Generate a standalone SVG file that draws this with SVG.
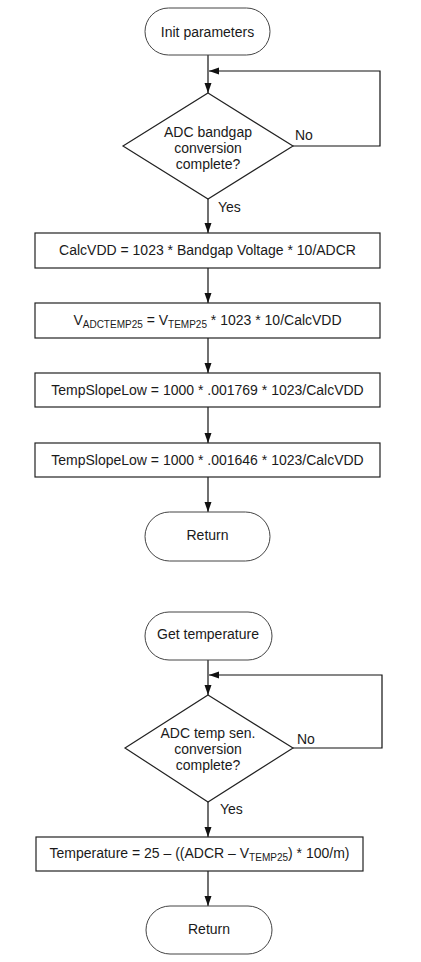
<svg xmlns="http://www.w3.org/2000/svg" width="421" height="962" viewBox="0 0 421 962">
<defs>
<marker id="arr" markerUnits="userSpaceOnUse" markerWidth="11" markerHeight="8" refX="10" refY="3.5" orient="auto">
<path d="M0,0 L10,3.5 L0,7 z" fill="#111"/>
</marker>
<style>
.shape{fill:#fff;stroke:#222;stroke-width:1.2}
.term{fill:#fff;stroke:#444;stroke-width:1}
.t{font-family:"Liberation Sans",Arial,sans-serif;font-size:14px;fill:#1a1a1a;text-anchor:middle}
.l{font-family:"Liberation Sans",Arial,sans-serif;font-size:14px;fill:#1a1a1a}
.sub{font-size:10px}
.c{fill:none;stroke:#111;stroke-width:1.2;marker-end:url(#arr)}
</style>
</defs>
<rect width="421" height="962" fill="#fff"/>
<g id="connectors">
<path class="c" d="M208 55 V93"/>
<path class="c" d="M293 146 H380 V71 H209"/>
<path class="c" d="M208 199 V233"/>
<path class="c" d="M208 268 V303"/>
<path class="c" d="M208 338 V373"/>
<path class="c" d="M208 407 V443"/>
<path class="c" d="M208 477 V512"/>
<path class="c" d="M208 660 V695"/>
<path class="c" d="M293 748 H382 V675 H209"/>
<path class="c" d="M208 802 V837"/>
<path class="c" d="M208 871 V906"/>
<text class="l" x="295" y="140">No</text>
<text class="l" x="218" y="212">Yes</text>
<text class="l" x="297" y="744">No</text>
<text class="l" x="220" y="814">Yes</text>
</g>
<g id="init">
<rect class="term" x="145" y="8" width="125" height="47" rx="23.5"/>
<text class="t" x="207.5" y="37">Init parameters</text>
</g>
<g id="decision1">
<polygon class="shape" points="208,93 293,146 208,199 123,146"/>
<text class="t" x="208" y="137">ADC bandgap</text>
<text class="t" x="208" y="153">conversion</text>
<text class="t" x="208" y="169">complete?</text>
</g>
<g id="calcvdd">
<rect class="shape" x="35" y="233" width="345" height="35"/>
<text class="t" x="207.5" y="255">CalcVDD = 1023 * Bandgap Voltage * 10/ADCR</text>
</g>
<g id="vadctemp">
<rect class="shape" x="35" y="303" width="345" height="35"/>
<text class="t" x="207.5" y="325">V<tspan class="sub" dy="3">ADCTEMP25</tspan><tspan dy="-3"> = V</tspan><tspan class="sub" dy="3">TEMP25</tspan><tspan dy="-3"> * 1023 * 10/CalcVDD</tspan></text>
</g>
<g id="slope1">
<rect class="shape" x="35" y="373" width="345" height="34"/>
<text class="t" x="207.5" y="395">TempSlopeLow = 1000 * .001769 * 1023/CalcVDD</text>
</g>
<g id="slope2">
<rect class="shape" x="35" y="443" width="345" height="34"/>
<text class="t" x="207.5" y="465">TempSlopeLow = 1000 * .001646 * 1023/CalcVDD</text>
</g>
<g id="return1">
<rect class="term" x="145" y="512" width="125" height="49" rx="24.5"/>
<text class="t" x="207.5" y="540">Return</text>
</g>
<g id="gettemp">
<rect class="term" x="145" y="612" width="127" height="48" rx="24"/>
<text class="t" x="208" y="639">Get temperature</text>
</g>
<g id="decision2">
<polygon class="shape" points="208,695 293,748 208,802 125,748"/>
<text class="t" x="208" y="738">ADC temp sen.</text>
<text class="t" x="208" y="754">conversion</text>
<text class="t" x="208" y="770">complete?</text>
</g>
<g id="temperature">
<rect class="shape" x="36" y="837" width="327" height="34"/>
<text class="t" x="199.5" y="858">Temperature = 25 – ((ADCR – V<tspan class="sub" dy="3">TEMP25</tspan><tspan dy="-3">) * 100/m)</tspan></text>
</g>
<g id="return2">
<rect class="term" x="146" y="906" width="126" height="48" rx="24"/>
<text class="t" x="209" y="934">Return</text>
</g>
</svg>
